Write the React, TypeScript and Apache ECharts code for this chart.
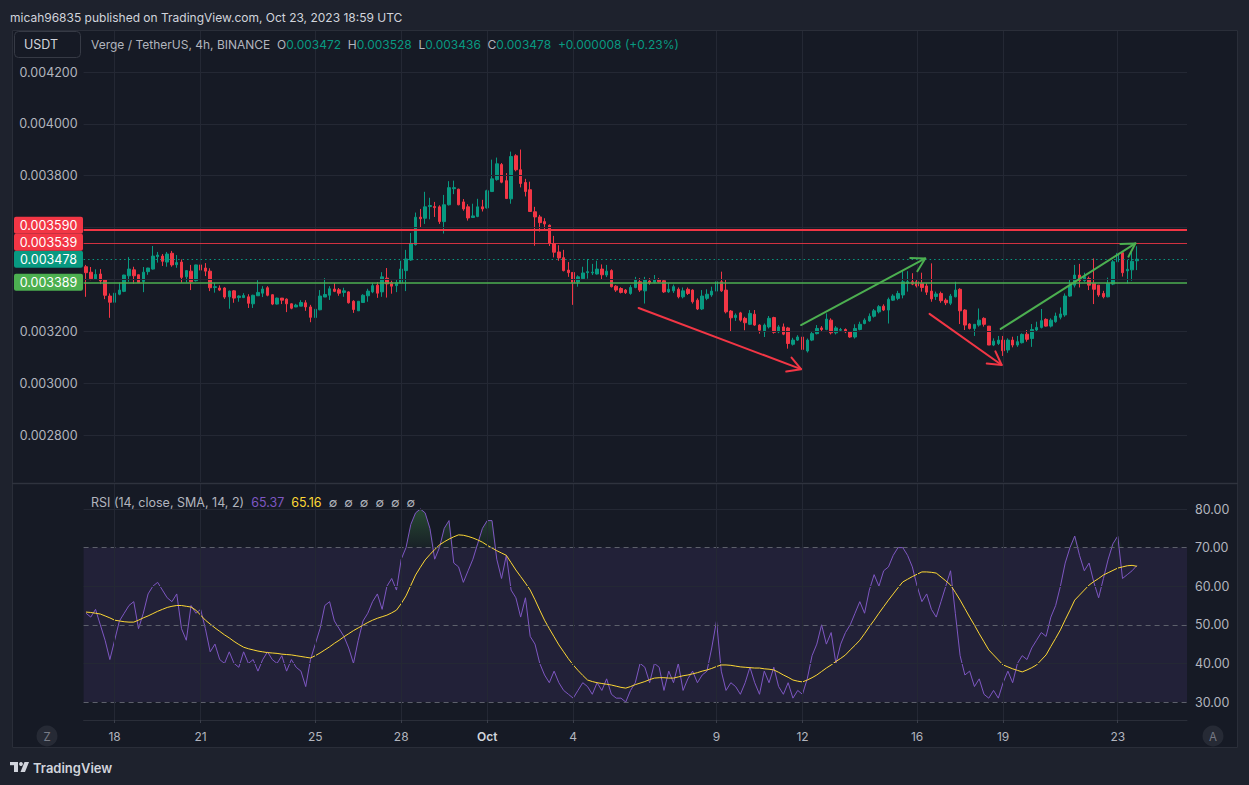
import React, { useEffect, useRef } from 'react';
import * as echarts from 'echarts';

// ---------------- data ----------------
const startUtc = Date.UTC(2023, 8, 17, 0, 0, 0); // first 4h bar: 17 Sep 2023 00:00 UTC
const barHours = 4;
const futureSlots = 10; // empty bars to the right of the last candle

const opens = [
  0.003449,0.003428,0.003402,0.003421,0.003398,0.003336,0.003312,0.003343,0.003354,0.003414,
  0.003437,0.003418,0.003392,0.003430,0.003440,0.003488,0.003490,0.003467,0.003501,0.003457,
  0.003467,0.003410,0.003432,0.003395,0.003456,0.003444,0.003432,0.003369,0.003367,0.003367,
  0.003333,0.003356,0.003330,0.003330,0.003333,0.003306,0.003337,0.003347,0.003368,0.003341,
  0.003305,0.003328,0.003324,0.003306,0.003294,0.003297,0.003310,0.003294,0.003253,0.003283,
  0.003332,0.003339,0.003363,0.003360,0.003350,0.003352,0.003316,0.003279,0.003311,0.003337,
  0.003352,0.003378,0.003352,0.003405,0.003388,0.003376,0.003387,0.003434,0.003475,0.003534,
  0.003640,0.003636,0.003681,0.003681,0.003680,0.003623,0.003688,0.003750,0.003748,0.003699,
  0.003680,0.003639,0.003643,0.003680,0.003676,0.003739,0.003785,0.003843,0.003781,0.003711,
  0.003877,0.003823,0.003774,0.003746,0.003661,0.003641,0.003623,0.003609,0.003538,0.003506,
  0.003484,0.003436,0.003427,0.003390,0.003403,0.003426,0.003425,0.003421,0.003440,0.003417,
  0.003434,0.003374,0.003365,0.003359,0.003346,0.003369,0.003391,0.003356,0.003394,0.003389,
  0.003398,0.003395,0.003352,0.003356,0.003362,0.003333,0.003362,0.003359,0.003320,0.003286,
  0.003327,0.003340,0.003355,0.003391,0.003359,0.003278,0.003253,0.003271,0.003250,0.003227,
  0.003266,0.003224,0.003198,0.003217,0.003253,0.003198,0.003217,0.003213,0.003150,0.003166,
  0.003178,0.003124,0.003166,0.003191,0.003213,0.003207,0.003243,0.003194,0.003204,0.003207,
  0.003198,0.003178,0.003207,0.003230,0.003240,0.003258,0.003275,0.003297,0.003282,0.003320,
  0.003327,0.003340,0.003385,0.003391,0.003391,0.003385,0.003375,0.003355,0.003334,0.003346,
  0.003320,0.003308,0.003333,0.003362,0.003282,0.003228,0.003211,0.003224,0.003250,0.003220,
  0.003147,0.003153,0.003166,0.003128,0.003166,0.003147,0.003156,0.003189,0.003172,0.003205,
  0.003215,0.003246,0.003220,0.003237,0.003254,0.003263,0.003336,0.003378,0.003417,0.003395,
  0.003404,0.003385,0.003378,0.003346,0.003333,0.003382,0.003468,0.003503,0.003433,0.003437,
  0.003472,
];

const highs = [
  0.003456,0.003448,0.003439,0.003440,0.003401,0.003346,0.003370,0.003388,0.003418,0.003486,
  0.003449,0.003419,0.003448,0.003445,0.003529,0.003506,0.003498,0.003506,0.003510,0.003494,
  0.003477,0.003436,0.003456,0.003457,0.003477,0.003463,0.003443,0.003387,0.003377,0.003370,
  0.003357,0.003359,0.003339,0.003347,0.003343,0.003341,0.003397,0.003374,0.003374,0.003343,
  0.003330,0.003328,0.003327,0.003308,0.003306,0.003320,0.003320,0.003302,0.003306,0.003359,
  0.003405,0.003374,0.003386,0.003367,0.003368,0.003354,0.003320,0.003316,0.003343,0.003364,
  0.003387,0.003390,0.003428,0.003444,0.003395,0.003401,0.003472,0.003514,0.003579,0.003658,
  0.003672,0.003738,0.003715,0.003699,0.003686,0.003726,0.003779,0.003781,0.003750,0.003710,
  0.003690,0.003692,0.003711,0.003707,0.003746,0.003862,0.003870,0.003849,0.003810,0.003893,
  0.003883,0.003901,0.003788,0.003777,0.003680,0.003649,0.003636,0.003612,0.003568,0.003532,
  0.003514,0.003467,0.003428,0.003416,0.003449,0.003479,0.003460,0.003472,0.003458,0.003456,
  0.003439,0.003378,0.003370,0.003363,0.003378,0.003410,0.003405,0.003410,0.003405,0.003417,
  0.003405,0.003398,0.003385,0.003380,0.003369,0.003369,0.003369,0.003362,0.003327,0.003359,
  0.003362,0.003372,0.003420,0.003430,0.003398,0.003282,0.003269,0.003275,0.003256,0.003282,
  0.003282,0.003227,0.003230,0.003259,0.003256,0.003224,0.003230,0.003217,0.003175,0.003185,
  0.003185,0.003172,0.003198,0.003224,0.003220,0.003269,0.003250,0.003220,0.003213,0.003211,
  0.003201,0.003227,0.003237,0.003250,0.003269,0.003286,0.003301,0.003304,0.003330,0.003343,
  0.003356,0.003432,0.003432,0.003424,0.003398,0.003426,0.003385,0.003462,0.003353,0.003353,
  0.003327,0.003344,0.003391,0.003366,0.003285,0.003231,0.003228,0.003288,0.003254,0.003220,
  0.003173,0.003182,0.003182,0.003173,0.003179,0.003182,0.003192,0.003205,0.003228,0.003237,
  0.003286,0.003250,0.003250,0.003272,0.003292,0.003346,0.003398,0.003456,0.003460,0.003426,
  0.003411,0.003481,0.003378,0.003356,0.003407,0.003475,0.003529,0.003507,0.003475,0.003507,
  0.003528,
];

const lows = [
  0.003333,0.003397,0.003400,0.003382,0.003324,0.003252,0.003267,0.003339,0.003351,0.003391,
  0.003383,0.003388,0.003351,0.003418,0.003438,0.003465,0.003452,0.003449,0.003449,0.003445,
  0.003387,0.003388,0.003359,0.003392,0.003430,0.003413,0.003355,0.003349,0.003355,0.003325,
  0.003287,0.003310,0.003314,0.003328,0.003290,0.003290,0.003337,0.003332,0.003335,0.003301,
  0.003303,0.003305,0.003274,0.003285,0.003293,0.003297,0.003279,0.003235,0.003191,0.003281,
  0.003332,0.003321,0.003351,0.003337,0.003333,0.003307,0.003271,0.003279,0.003310,0.003314,
  0.003347,0.003329,0.003333,0.003330,0.003345,0.003351,0.003385,0.003355,0.003472,0.003531,
  0.003600,0.003614,0.003632,0.003641,0.003614,0.003577,0.003685,0.003729,0.003686,0.003665,
  0.003627,0.003637,0.003640,0.003662,0.003673,0.003737,0.003781,0.003771,0.003710,0.003692,
  0.003817,0.003755,0.003720,0.003661,0.003530,0.003585,0.003592,0.003529,0.003485,0.003472,
  0.003431,0.003410,0.003302,0.003372,0.003402,0.003403,0.003417,0.003419,0.003398,0.003409,
  0.003369,0.003352,0.003346,0.003344,0.003341,0.003366,0.003352,0.003307,0.003380,0.003385,
  0.003387,0.003348,0.003348,0.003348,0.003327,0.003327,0.003340,0.003307,0.003282,0.003282,
  0.003320,0.003333,0.003350,0.003352,0.003269,0.003198,0.003240,0.003237,0.003204,0.003224,
  0.003221,0.003191,0.003178,0.003211,0.003191,0.003193,0.003185,0.003133,0.003145,0.003163,
  0.003088,0.003118,0.003162,0.003188,0.003198,0.003204,0.003188,0.003188,0.003198,0.003193,
  0.003175,0.003172,0.003204,0.003227,0.003237,0.003253,0.003269,0.003278,0.003230,0.003317,
  0.003320,0.003327,0.003353,0.003378,0.003369,0.003353,0.003340,0.003314,0.003321,0.003310,
  0.003301,0.003301,0.003331,0.003228,0.003205,0.003207,0.003182,0.003218,0.003218,0.003147,
  0.003143,0.003147,0.003105,0.003117,0.003138,0.003140,0.003153,0.003160,0.003140,0.003198,
  0.003211,0.003218,0.003215,0.003233,0.003246,0.003256,0.003333,0.003369,0.003369,0.003391,
  0.003359,0.003305,0.003333,0.003327,0.003331,0.003378,0.003430,0.003411,0.003385,0.003395,
  0.003436,
];

const closes = [
  0.003426,0.003403,0.003419,0.003394,0.003339,0.003312,0.003347,0.003359,0.003417,0.003440,
  0.003414,0.003388,0.003428,0.003444,0.003490,0.003494,0.003470,0.003498,0.003456,0.003465,
  0.003408,0.003434,0.003391,0.003456,0.003436,0.003432,0.003368,0.003372,0.003359,0.003332,
  0.003355,0.003328,0.003336,0.003338,0.003308,0.003339,0.003350,0.003363,0.003339,0.003305,
  0.003328,0.003320,0.003306,0.003289,0.003301,0.003311,0.003294,0.003254,0.003285,0.003336,
  0.003342,0.003364,0.003354,0.003347,0.003356,0.003310,0.003284,0.003316,0.003339,0.003355,
  0.003376,0.003347,0.003410,0.003383,0.003374,0.003388,0.003440,0.003479,0.003539,0.003640,
  0.003634,0.003680,0.003685,0.003677,0.003623,0.003688,0.003754,0.003754,0.003688,0.003672,
  0.003637,0.003645,0.003680,0.003672,0.003742,0.003788,0.003846,0.003775,0.003712,0.003874,
  0.003823,0.003770,0.003739,0.003662,0.003641,0.003619,0.003614,0.003539,0.003505,0.003483,
  0.003434,0.003426,0.003387,0.003410,0.003425,0.003430,0.003428,0.003440,0.003418,0.003432,
  0.003372,0.003359,0.003350,0.003349,0.003369,0.003398,0.003359,0.003398,0.003387,0.003398,
  0.003391,0.003352,0.003362,0.003372,0.003333,0.003356,0.003346,0.003314,0.003286,0.003336,
  0.003343,0.003355,0.003391,0.003356,0.003275,0.003252,0.003262,0.003243,0.003233,0.003269,
  0.003224,0.003204,0.003224,0.003250,0.003196,0.003217,0.003189,0.003153,0.003166,0.003178,
  0.003130,0.003166,0.003191,0.003211,0.003207,0.003247,0.003194,0.003213,0.003207,0.003198,
  0.003178,0.003211,0.003227,0.003243,0.003258,0.003279,0.003295,0.003282,0.003323,0.003336,
  0.003346,0.003391,0.003391,0.003382,0.003375,0.003369,0.003351,0.003325,0.003344,0.003318,
  0.003310,0.003336,0.003359,0.003279,0.003224,0.003211,0.003227,0.003243,0.003227,0.003147,
  0.003162,0.003166,0.003125,0.003166,0.003147,0.003160,0.003188,0.003169,0.003207,0.003215,
  0.003241,0.003220,0.003243,0.003259,0.003267,0.003336,0.003378,0.003417,0.003395,0.003411,
  0.003378,0.003362,0.003340,0.003333,0.003385,0.003468,0.003501,0.003426,0.003439,0.003470,
  0.003478,
];

const rsiValues = [
  53,52,54,50,46,41,46,51,53,55,
  56,49,53,58,60,61,59,57,56,58,
  49,46,55,53,54,49,43,45,41,40,
  43,40,39,43,40,41,38,41,43,41,
  40,42,38,41,39,38,34,41,45,49,
  55,56,51,49,47,44,40,46,51,53,
  56,58,54,60,62,59,67,70,76,79,
  80,79,75,67,70,75,77,66,65,61,
  64,67,71,75,77,77,67,62,68,59,
  57,52,57,47,45,40,37,35,38,35,
  33,32,31,33,35,34,32,35,33,36,
  32,31,31,30,33,35,40,39,35,40,
  39,33,38,35,40,33,36,38,35,37,
  38,44,51,38,33,35,34,32,35,39,
  35,32,38,35,39,34,32,35,31,33,
  32,36,42,45,50,45,48,40,45,48,
  50,53,56,53,59,63,60,64,65,68,
  70,70,68,65,60,56,58,54,52,56,
  60,64,53,42,37,38,34,36,32,31,
  33,31,35,38,35,40,42,41,44,46,
  48,47,52,55,60,66,70,73,68,64,
  66,61,57,62,67,71,73,62,63,64,
  65.37,
];

const rsiMaValues = [
  53.3,53.2,53.0,52.8,52.3,51.8,51.2,51.0,50.8,50.7,
  50.7,51.2,51.8,52.3,52.9,53.5,54.0,54.5,54.8,55.0,
  55.0,54.8,54.6,53.8,52.5,51.2,50.2,49.2,48.3,47.4,
  46.6,45.7,44.9,44.2,43.8,43.5,43.2,43.0,42.8,42.7,
  42.6,42.4,42.3,42.2,42.0,41.8,41.6,41.4,42.0,42.7,
  43.5,44.3,45.2,46.0,46.9,47.7,48.5,49.2,49.9,50.6,
  51.2,51.7,52.1,52.5,53.1,53.8,55.5,57.5,60.2,62.9,
  64.9,66.8,68.2,69.5,70.7,71.5,72.2,72.8,73.3,73.2,
  72.9,72.5,72.0,71.4,70.6,69.9,69.2,68.6,68.0,66.1,
  64.2,62.5,60.8,59.0,56.5,53.8,51.2,49.0,46.9,44.8,
  43.0,41.2,39.6,38.2,36.9,35.7,35.3,35.0,34.8,34.6,
  34.4,34.1,33.8,33.6,34.0,34.5,34.9,35.3,35.8,36.2,
  36.3,36.3,36.2,36.2,36.5,36.8,37.0,37.3,37.6,38.0,
  38.3,38.7,39.2,39.6,39.6,39.5,39.3,39.1,39.0,38.9,
  38.8,38.8,38.6,38.5,38.3,37.7,37.0,36.4,35.7,35.4,
  35.2,35.7,36.3,37.0,37.9,38.8,39.6,40.5,41.3,42.2,
  43.5,44.7,46.0,47.7,49.5,51.2,53.0,54.7,56.4,58.0,
  59.6,61.1,61.8,62.5,63.1,63.7,63.7,63.6,63.4,62.4,
  61.4,60.3,58.4,56.4,54.2,52.0,49.9,47.7,45.6,43.5,
  42.2,40.9,39.6,39.1,38.6,38.2,37.8,38.3,38.9,39.6,
  40.9,42.2,44.4,46.5,48.7,51.3,53.8,56.4,57.7,59.0,
  60.3,61.2,62.0,62.9,63.5,64.1,64.7,65.0,65.3,65.4,
  65.16,
];

const tickDates = ['2023-09-18','2023-09-21','2023-09-25','2023-09-28','2023-10-01','2023-10-04','2023-10-09','2023-10-12','2023-10-16','2023-10-19','2023-10-23'];
const tickLabels = ['18','21','25','28','Oct','4','9','12','16','19','23'];

const priceTicks = [0.0028, 0.003, 0.0032, 0.0034, 0.0036, 0.0038, 0.004, 0.0042];
const rsiTicks = [30, 40, 50, 60, 70, 80];
const rsiBand = [30, 70];
const rsiDashed = [30, 50, 70];

// horizontal drawings: resistance (2 red), support (green)
const resistanceLevels = [0.003590, 0.003539];
const supportLevels = [0.003389];

// trend arrows: [fromBar, fromPrice, toBar, toPrice, kind(0 red / 1 green)]
const arrows = [
  [115.7, 0.003290, 149.7, 0.003054, 0],
  [149.7, 0.003224, 175.7, 0.003481, 1],
  [176.6, 0.003267, 191.7, 0.003070, 0],
  [191.5, 0.003209, 219.7, 0.003539, 1],
];

// ---------------- styling ----------------
const W = 1249;
const H = 785;
const OUTER = '#1e222d';
const PANEL = '#161a25';
const GRID = '#242834';
const BORDER = '#2a2e39';
const TXT = '#b2b5be';
const TXT2 = '#d1d4dc';
const UP = '#089981';
const DOWN = '#f23645';
const LINE_GREEN = '#4caf50';
const RSI_COLOR = '#7e57c2';
const MA_COLOR = '#fdd835';
const FONT = 'Inter, "Noto Sans", sans-serif';
const FS = 12;

const plotLeft = 83.6;
const plotRight = 62;
const priceTop = 30;
const priceHeight = 452;
const rsiTop = 484;
const rsiHeight = 236;
const priceMin = 0.0026188;
const priceMax = 0.004362;
const rsiMin = 25.34;
const rsiMax = 86.48;
const boxH = 17;

const pad2 = (n: number) => String(n).padStart(2, '0');
const N = closes.length;
const categories = Array.from({ length: N + futureSlots }, (_, i) => {
  const d = new Date(startUtc + i * barHours * 3600000);
  return `${d.getUTCFullYear()}-${pad2(d.getUTCMonth() + 1)}-${pad2(d.getUTCDate())} ${pad2(d.getUTCHours())}:00`;
});
const tickIndex = tickDates.map((d) => categories.indexOf(d + ' 00:00'));
const tickSet = new Set(tickIndex);
const labelByCat = new Map<string, string>();
tickIndex.forEach((idx, k) => labelByCat.set(categories[idx], tickLabels[k]));

const candleData = opens.map((o, i) => [o, closes[i], lows[i], highs[i]]);

// same linear mapping the price axis uses (for label collision only)
const priceToY = (v: number) => priceTop + ((priceMax - v) / (priceMax - priceMin)) * priceHeight;

// scale labels of the drawings, stacked so that they don't overlap
function levelBoxes() {
  const boxes = [
    { v: resistanceLevels[0], color: DOWN },
    { v: resistanceLevels[1], color: DOWN },
    { v: closes[N - 1], color: UP },
    { v: supportLevels[0], color: LINE_GREEN },
  ].map((b) => ({ ...b, y: priceToY(b.v), cy: 0 }));
  boxes.sort((a, b) => b.y - a.y);
  let prev = Infinity;
  boxes.forEach((b) => {
    b.cy = Math.min(b.y, prev - boxH);
    prev = b.cy;
  });
  return boxes;
}

function buildOption(): any {
  const vGrid = tickIndex.map((idx) => ({ xAxis: categories[idx] }));
  const lastClose = closes[N - 1];
  const boxes = levelBoxes();
  const covered = (v: number) => {
    const y = priceToY(v);
    return boxes.some((b) => Math.abs(b.cy - y) < boxH / 2 + 6);
  };
  return {
    animation: false,
    backgroundColor: PANEL,
    textStyle: { fontFamily: FONT },
    grid: [
      { left: plotLeft, right: plotRight, top: priceTop, height: priceHeight },
      { left: plotLeft, right: plotRight, top: rsiTop, height: rsiHeight },
    ],
    xAxis: [
      {
        type: 'category', gridIndex: 0, data: categories, boundaryGap: true,
        axisLine: { show: false }, axisTick: { show: false }, axisLabel: { show: false }, splitLine: { show: false },
      },
      {
        type: 'category', gridIndex: 1, data: categories, boundaryGap: true,
        axisLine: { show: true, lineStyle: { color: BORDER } },
        axisTick: { show: true, alignWithLabel: true, interval: (i: number) => tickSet.has(i), length: 3, lineStyle: { color: '#3a3e4a' } },
        axisLabel: {
          show: true, interval: (i: number) => tickSet.has(i), margin: 10,
          color: TXT, fontSize: FS, fontFamily: FONT,
          formatter: (v: string) => {
            const t = labelByCat.get(v) || '';
            return t === 'Oct' ? '{m|Oct}' : t;
          },
          rich: { m: { color: TXT2, fontSize: FS, fontFamily: FONT, fontWeight: 600 } },
        },
        splitLine: { show: false },
      },
    ],
    yAxis: [
      { type: 'value', gridIndex: 0, min: priceMin, max: priceMax, show: false, splitLine: { show: false } },
      { type: 'value', gridIndex: 1, min: rsiMin, max: rsiMax, show: false, splitLine: { show: false } },
    ],
    series: [
      // price grid lines + labels
      {
        type: 'line', xAxisIndex: 0, yAxisIndex: 0, data: closes, silent: true, z: 1,
        showSymbol: false, symbol: 'none', lineStyle: { opacity: 0 },
        markLine: {
          silent: true, symbol: ['none', 'none'], precision: 8,
          lineStyle: { color: GRID, width: 1, type: 'solid' },
          label: {
            show: true, position: 'start', distance: 6, color: TXT, fontSize: 12.5, fontFamily: FONT,
            formatter: (p: any) => Number(p.value).toFixed(6),
          },
          emphasis: { disabled: true },
          data: [
            ...priceTicks.map((v) => (covered(v) ? { yAxis: v, label: { show: false } } : { yAxis: v })),
            ...vGrid.map((d) => ({ ...d, label: { show: false } })),
          ],
        },
      },
      {
        type: 'candlestick', xAxisIndex: 0, yAxisIndex: 0, data: candleData, z: 3,
        barWidth: 3, silent: true,
        itemStyle: { color: UP, color0: DOWN, borderColor: UP, borderColor0: DOWN, borderWidth: 1 },
      },
      // horizontal drawings
      {
        type: 'line', xAxisIndex: 0, yAxisIndex: 0, data: closes, silent: true, z: 4,
        showSymbol: false, symbol: 'none', lineStyle: { opacity: 0 },
        markLine: {
          silent: true, symbol: ['none', 'none'], label: { show: false }, precision: 8,
          emphasis: { disabled: true },
          data: [
            { yAxis: resistanceLevels[0], lineStyle: { color: DOWN, width: 2, type: 'solid' } },
            { yAxis: resistanceLevels[1], lineStyle: { color: DOWN, width: 1, type: 'solid', opacity: 0.85 } },
            { yAxis: lastClose, lineStyle: { color: UP, width: 1, type: [1.5, 3] } },
            { yAxis: supportLevels[0], lineStyle: { color: LINE_GREEN, width: 1.5, type: 'solid' } },
          ],
        },
      },
      // arrows
      {
        type: 'custom', xAxisIndex: 0, yAxisIndex: 0, data: arrows, z: 5, silent: true, clip: false,
        encode: { x: 0, y: 1 },
        renderItem: (params: any, api: any) => {
          const px = (x: number, y: number) => {
            const i0 = Math.floor(x);
            const f = x - i0;
            const a = api.coord([i0, y]);
            const b = api.coord([i0 + 1, y]);
            return [a[0] + (b[0] - a[0]) * f, a[1]];
          };
          const a = px(api.value(0), api.value(1));
          const b = px(api.value(2), api.value(3));
          const color = api.value(4) === 0 ? '#f23645' : '#4caf50';
          const ang = Math.atan2(b[1] - a[1], b[0] - a[0]);
          const L = 15;
          const s = Math.PI / 6;
          const w1 = [b[0] - L * Math.cos(ang - s), b[1] - L * Math.sin(ang - s)];
          const w2 = [b[0] - L * Math.cos(ang + s), b[1] - L * Math.sin(ang + s)];
          return {
            type: 'group',
            children: [
              { type: 'line', shape: { x1: a[0], y1: a[1], x2: b[0], y2: b[1] }, style: { stroke: color, lineWidth: 2, lineCap: 'round' } },
              { type: 'polyline', shape: { points: [w1, b, w2] }, style: { stroke: color, lineWidth: 2, fill: null, lineCap: 'round', lineJoin: 'round' } },
            ],
          };
        },
      },
      // RSI grid lines, labels
      {
        type: 'line', xAxisIndex: 1, yAxisIndex: 1, data: rsiValues, silent: true, z: 1,
        showSymbol: false, symbol: 'none', lineStyle: { opacity: 0 },
        markLine: {
          silent: true, symbol: ['none', 'none'],
          emphasis: { disabled: true },
          label: {
            show: true, position: 'end', distance: 8, color: TXT, fontSize: 12.5, fontFamily: FONT,
            formatter: (p: any) => Number(p.value).toFixed(2),
          },
          data: [
            ...rsiTicks.map((v) => ({
              yAxis: v,
              lineStyle: rsiDashed.includes(v)
                ? { color: '#5d606b', width: 1, type: [5, 4] }
                : { color: GRID, width: 1, type: 'solid' },
            })),
            ...vGrid.map((d) => ({ ...d, label: { show: false }, lineStyle: { color: GRID, width: 1, type: 'solid' } })),
          ],
        },
        markArea: {
          silent: true,
          itemStyle: { color: 'rgba(126,87,194,0.12)' },
          data: [[{ yAxis: rsiBand[1] }, { yAxis: rsiBand[0] }]],
        },
      },
      // overbought fill
      {
        type: 'line', xAxisIndex: 1, yAxisIndex: 1, silent: true, z: 2,
        data: rsiValues.map((v) => Math.max(v, rsiBand[1])),
        showSymbol: false, symbol: 'none', lineStyle: { opacity: 0 },
        areaStyle: {
          origin: rsiBand[1],
          color: new echarts.graphic.LinearGradient(0, 0, 0, 1, [
            { offset: 0, color: 'rgba(76,175,80,0.45)' },
            { offset: 1, color: 'rgba(76,175,80,0.06)' },
          ]),
        },
      },
      {
        type: 'line', xAxisIndex: 1, yAxisIndex: 1, data: rsiValues, silent: true, z: 3,
        showSymbol: false, symbol: 'none', lineStyle: { color: RSI_COLOR, width: 1 },
      },
      {
        type: 'line', xAxisIndex: 1, yAxisIndex: 1, data: rsiMaValues, silent: true, z: 4,
        showSymbol: false, symbol: 'none', lineStyle: { color: MA_COLOR, width: 1 },
      },
    ],
  };
}

function buildGraphic(chart: any): any[] {
  const g: any[] = [];
  const f = (size: number, weight = 400) => `${weight} ${size}px ${FONT}`;
  const rect = (x: number, y: number, w: number, h: number, style: any, extra: any = {}) =>
    ({ type: 'rect', shape: { x, y, width: w, height: h, ...(extra.r ? { r: extra.r } : {}) }, style, silent: true, z: 100 });
  const text = (x: number, y: number, t: string, style: any) =>
    ({ type: 'text', x, y, silent: true, z: 101, style: { text: t, verticalAlign: 'middle', textVerticalAlign: 'middle', ...style } });

  // outer frame
  g.push(rect(0, 0, W, 30, { fill: OUTER }));
  g.push(rect(0, 748, W, H - 748, { fill: OUTER }));
  g.push(rect(0, 30, 12, 718, { fill: OUTER }));
  g.push(rect(1238, 30, W - 1238, 718, { fill: OUTER }));
  g.push(rect(12.5, 30.5, 1225, 717, { fill: null, stroke: BORDER, lineWidth: 1 }));
  g.push({ type: 'line', shape: { x1: 12, y1: 483.5, x2: 1238, y2: 483.5 }, style: { stroke: '#2f333e', lineWidth: 1.5 }, silent: true, z: 100 });

  g.push(text(10, 17, 'micah96835 published on TradingView.com, Oct 23, 2023 18:59 UTC', { fill: TXT2, font: f(FS) }));

  // symbol box
  g.push(rect(14.5, 31.5, 66, 26, { fill: PANEL, stroke: '#363a45', lineWidth: 1 }, { r: 4 }));
  g.push(text(24, 44.5, 'USDT', { fill: TXT2, font: f(12.5) }));

  // legend
  const last = N - 1;
  const fx = (v: number) => v.toFixed(6);
  const chg = closes[last] - closes[last - 1];
  const pct = (chg / closes[last - 1]) * 100;
  const sign = chg >= 0 ? '+' : '−';
  const legend = `{t|Verge / TetherUS, 4h, BINANCE}  {k|O}{v|${fx(opens[last])}}  {k|H}{v|${fx(highs[last])}}  {k|L}{v|${fx(lows[last])}}  {k|C}{v|${fx(closes[last])}}  {v|${sign}${fx(Math.abs(chg))} (${sign}${Math.abs(pct).toFixed(2)}%)}`;
  const chgColor = chg >= 0 ? UP : DOWN;
  g.push(text(91, 44.5, legend, {
    fill: TXT, font: f(FS),
    rich: {
      t: { fill: TXT, fontSize: FS, fontFamily: FONT },
      k: { fill: TXT, fontSize: FS, fontFamily: FONT },
      v: { fill: chgColor, fontSize: FS, fontFamily: FONT },
    },
  }));

  const rsiLegend = `{t|RSI (14, close, SMA, 14, 2)}  {p|${rsiValues[last].toFixed(2)}}  {y|${rsiMaValues[last].toFixed(2)}}  {t|∅  ∅  ∅  ∅  ∅  ∅}`;
  g.push(text(91, 502, rsiLegend, {
    fill: TXT, font: f(12.5),
    rich: {
      t: { fill: TXT, fontSize: 12.5, fontFamily: FONT },
      p: { fill: RSI_COLOR, fontSize: 12.5, fontFamily: FONT },
      y: { fill: MA_COLOR, fontSize: 12.5, fontFamily: FONT },
    },
  }));

  // price labels on the left scale
  levelBoxes().forEach((b) => {
    g.push(rect(14, b.cy - boxH / 2, 69, boxH, { fill: b.color }, { r: 2 }));
    g.push(text(48.5, b.cy + 0.5, b.v.toFixed(6), { fill: '#ffffff', font: f(12.5), align: 'center', textAlign: 'center' }));
  });

  // Z / A buttons
  [[47, 'Z'], [1213, 'A']].forEach(([x, t]) => {
    g.push({ type: 'circle', shape: { cx: x, cy: 736, r: 10.5 }, style: { fill: '#262a35' }, silent: true, z: 100 });
    g.push(text(x as number, 736.5, t as string, { fill: '#787b86', font: f(11.5), align: 'center', textAlign: 'center' }));
  });

  // TradingView logo
  g.push(rect(10, 762, 8, 3.2, { fill: TXT2 }));
  g.push(rect(14, 762, 4, 10, { fill: TXT2 }));
  g.push({ type: 'circle', shape: { cx: 21, cy: 764, r: 1.9 }, style: { fill: TXT2 }, silent: true, z: 100 });
  g.push({ type: 'polygon', shape: { points: [[24.5, 762], [29, 762], [25, 772], [20.5, 772]] }, style: { fill: TXT2 }, silent: true, z: 100 });
  g.push(text(33, 767.5, 'TradingView', { fill: TXT2, font: f(13, 600) }));

  return g;
}

export default function App() {
  const ref = useRef<HTMLDivElement>(null);
  useEffect(() => {
    const el = ref.current;
    if (!el) return;
    const chart = echarts.init(el, null, { renderer: 'svg' });
    chart.setOption(buildOption());
    chart.setOption({ graphic: buildGraphic(chart) });
    return () => chart.dispose();
  }, []);
  return <div ref={ref} style={{ position: 'fixed', left: 0, top: 0, width: W, height: H }} />;
}
